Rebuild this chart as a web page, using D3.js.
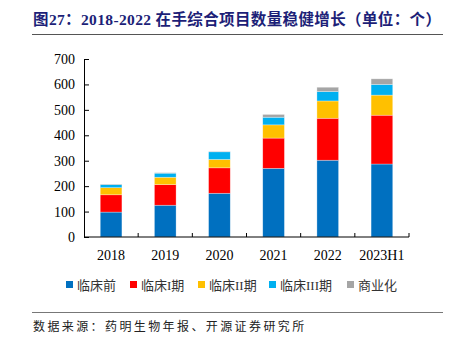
<!DOCTYPE html>
<html>
<head>
<meta charset="utf-8">
<script src="https://cdn.jsdelivr.net/npm/d3@7"></script>
<style>
  body { margin: 0; background: #fff; }
  svg { display: block; }
</style>
</head>
<body>
<script>
// categories and stacked series (number of projects)
var years = ["2018", "2019", "2020", "2021", "2022", "2023H1"];
var preClinical = [98, 125, 172, 270, 302, 287];
var phase1 = [68, 81, 100, 119, 165, 192];
var phase2 = [28, 29, 33, 52, 68, 79];
var phase3 = [12, 16, 30, 30, 37, 42];
var commercial = [2, 2, 2, 11, 17, 22];
var seriesNames = ["临床前", "临床I期", "临床II期", "临床III期", "商业化"];
var seriesColors = ["#0070C0", "#FF0000", "#FFC000", "#00B0F0", "#A5A5A5"];
var yTicks = [0, 100, 200, 300, 400, 500, 600, 700];

var width = 450, height = 340;
var margin = {left: 84, right: 41, top: 59, bottom: 103};
var serifCjk = "'Liberation Serif', 'Noto Sans CJK SC', serif";

var svg = d3.select("body").append("svg")
    .attr("width", width)
    .attr("height", height);

// title + rule under it
svg.append("text")
    .attr("x", 33).attr("y", 25)
    .attr("font-family", serifCjk)
    .attr("font-weight", "bold")
    .attr("font-size", 15.5)
    .attr("textLength", 408)
    .attr("lengthAdjust", "spacing")
    .attr("fill", "#1d1f78")
    .text("图27：2018-2022 在手综合项目数量稳健增长（单位：个）");
svg.append("line")
    .attr("x1", 32).attr("x2", 443).attr("y1", 34.5).attr("y2", 34.5)
    .attr("stroke", "#555").attr("stroke-width", 1.2);

// build rows for the stack
var keys = ["p0", "p1", "p2", "p3", "p4"];
var rows = years.map(function(y, i){
    return {year: y, p0: preClinical[i], p1: phase1[i], p2: phase2[i], p3: phase3[i], p4: commercial[i]};
});
var stacked = d3.stack().keys(keys)(rows);

var xScale = d3.scaleBand()
    .domain(years)
    .range([margin.left, width - margin.right]);
var yScale = d3.scaleLinear()
    .domain([0, 700])
    .range([height - margin.bottom, margin.top]);

var plot = svg.append("g");

stacked.forEach(function(layer, k){
    plot.selectAll(".bar" + k)
        .data(layer)
        .enter().append("rect")
        .attr("x", function(d){ return xScale(d.data.year) + xScale.bandwidth() * 0.3; })
        .attr("width", xScale.bandwidth() * 0.4)
        .attr("y", function(d){ return yScale(d[1]); })
        .attr("height", function(d){ return yScale(d[0]) - yScale(d[1]); })
        .attr("fill", seriesColors[k])
        .attr("stroke", "rgba(255,255,255,0.5)")
        .attr("stroke-width", 0.6);
});

// y axis, ticks pointing inward
var yAxis = d3.axisLeft(yScale).tickValues(yTicks).tickSize(-5).tickPadding(9);
var gy = svg.append("g")
    .attr("transform", "translate(" + margin.left + ",0)")
    .call(yAxis);
gy.selectAll("text")
    .attr("font-family", "'Liberation Serif', 'Times New Roman', serif")
    .attr("font-size", 14)
    .attr("fill", "#000");
gy.select(".domain").attr("stroke", "#000");

// x axis, category boundaries marked with short upward ticks
var gx = svg.append("g")
    .attr("transform", "translate(0," + (height - margin.bottom) + ")");
gx.append("line")
    .attr("x1", margin.left).attr("x2", width - margin.right)
    .attr("stroke", "#000");
years.forEach(function(y){
    var xr = xScale(y) + xScale.bandwidth();
    gx.append("line")
        .attr("x1", xr).attr("x2", xr).attr("y1", 0).attr("y2", -4)
        .attr("stroke", "#000");
});
gx.selectAll(".xl")
    .data(years)
    .enter().append("text")
    .attr("x", function(d){ return xScale(d) + xScale.bandwidth() / 2; })
    .attr("y", 23)
    .attr("text-anchor", "middle")
    .attr("font-family", "'Liberation Serif', 'Times New Roman', serif")
    .attr("font-size", 14)
    .text(function(d){ return d; });

// legend
var legendX = [66, 130, 198, 269, 347];
var legend = svg.append("g");
seriesNames.forEach(function(name, k){
    var g = legend.append("g").attr("transform", "translate(" + legendX[k] + ",285)");
    g.append("rect")
        .attr("x", 0).attr("y", -4).attr("width", 7).attr("height", 7)
        .attr("fill", seriesColors[k]);
    g.append("text")
        .attr("x", 11).attr("y", 4.5)
        .attr("font-family", serifCjk)
        .attr("font-size", 13)
        .attr("fill", "#333")
        .text(name);
});

// source note
svg.append("line")
    .attr("x1", 32).attr("x2", 443).attr("y1", 312.5).attr("y2", 312.5)
    .attr("stroke", "#777").attr("stroke-width", 1);
svg.append("text")
    .attr("x", 33).attr("y", 331)
    .attr("font-family", "'Noto Sans CJK SC', sans-serif")
    .attr("font-size", 12)
    .attr("letter-spacing", 2.4)
    .attr("fill", "#222")
    .text("数据来源：药明生物年报、开源证券研究所");
</script>
</body>
</html>
